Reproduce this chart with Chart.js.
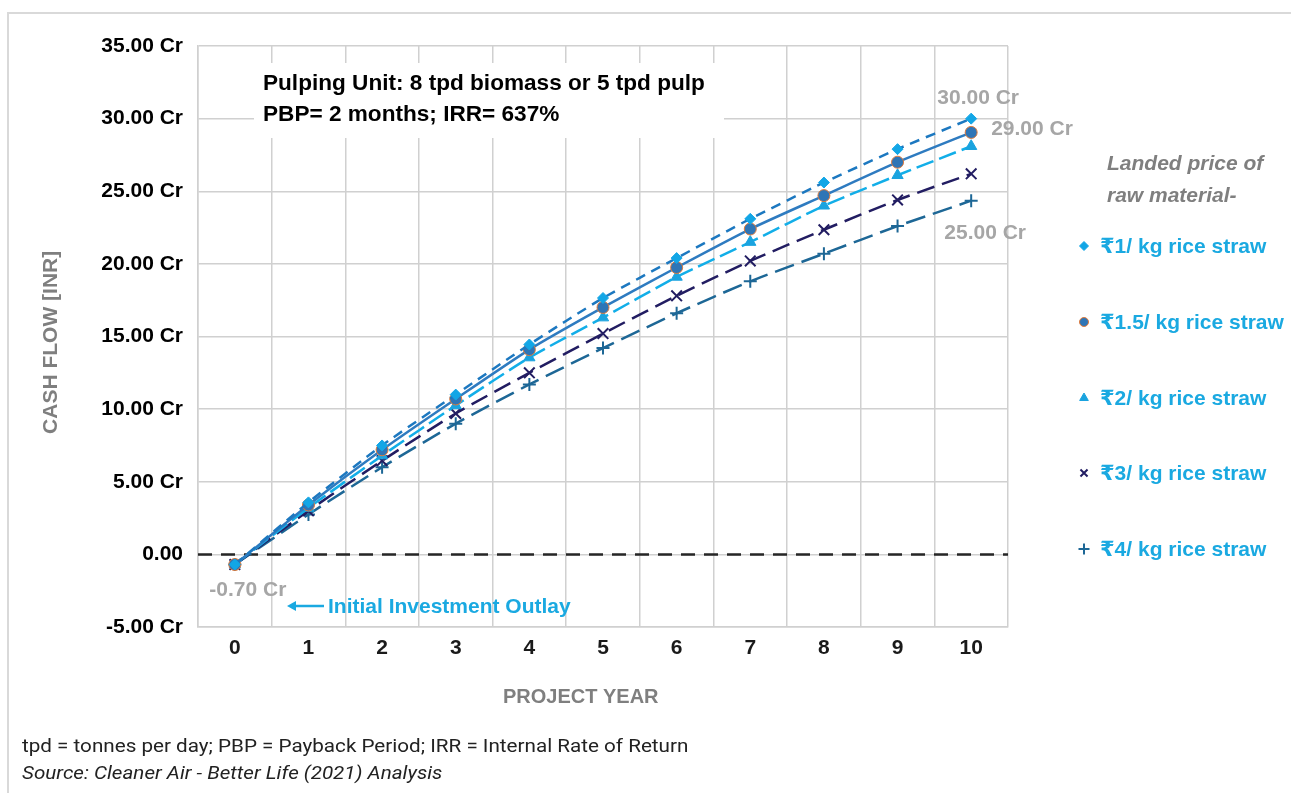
<!DOCTYPE html>
<html>
<head>
<meta charset="utf-8">
<script src="https://cdn.jsdelivr.net/npm/chart.js@4.4.1/dist/chart.umd.min.js"></script>
<style>
  html, body { margin: 0; padding: 0; background: #fff; }
  #wrap { position: relative; width: 1291px; height: 793px; overflow: hidden; }
  #frame { position: absolute; left: 7px; top: 12px; width: 1300px; height: 800px;
           border-left: 2px solid #d9d9d9; border-top: 2px solid #d9d9d9; }
  canvas { position: absolute; left: 0; top: 0; }
  .note { position: absolute; left: 22px; font-family: Roboto, "Noto Sans", sans-serif;
          font-size: 19px; color: #222; white-space: nowrap; transform-origin: 0 0; }
</style>
</head>
<body>
<div id="wrap">
  <div id="frame"></div>
  <canvas id="cashFlowChart" width="1291" height="793"></canvas>
  <div class="note" id="note1" style="top:734px">tpd = tonnes per day; PBP = Payback Period; IRR = Internal Rate of Return</div>
  <div class="note" id="note2" style="top:761px; font-style:italic">Source: Cleaner Air - Better Life (2021) Analysis</div>
</div>
<script>
// project years on the x axis
const years = ['0', '1', '2', '3', '4', '5', '6', '7', '8', '9', '10'];

// cumulative cash flow in crore INR, by landed price of rice straw
const price1 = [-0.7, 3.58, 7.5, 11.0, 14.45, 17.65, 20.4, 23.1, 25.6, 27.9, 30.0];
const price15 = [-0.7, 3.4, 7.2, 10.7, 14.1, 17.0, 19.75, 22.4, 24.7, 27.0, 29.05];
const price2 = [-0.7, 3.2, 6.8, 10.25, 13.55, 16.3, 19.1, 21.5, 24.0, 26.1, 28.1];
const price3 = [-0.7, 3.0, 6.45, 9.7, 12.5, 15.2, 17.8, 20.2, 22.35, 24.4, 26.2];
const price4 = [-0.7, 2.75, 6.0, 9.0, 11.7, 14.2, 16.6, 18.8, 20.7, 22.6, 24.35];

const seriesLabels = ['₹1/ kg rice straw', '₹1.5/ kg rice straw', '₹2/ kg rice straw',
    '₹3/ kg rice straw', '₹4/ kg rice straw'];

const FONT = '"Liberation Sans", Arial, "DejaVu Sans", sans-serif';
const BLUE_TEXT = '#1aa9e1';
const GREY_TEXT = '#a6a6a6';

Chart.defaults.font.family = FONT;
Chart.defaults.font.size = 21;
Chart.defaults.font.weight = 'bold';
Chart.defaults.color = '#000';

// dashed black line at zero
const zeroLine = {
    id: 'zeroLine',
    beforeDatasetsDraw(chart) {
        const {ctx, chartArea, scales: {y}} = chart;
        const py = y.getPixelForValue(0);
        ctx.save();
        ctx.strokeStyle = '#262626';
        ctx.lineWidth = 2.5;
        ctx.setLineDash([14, 9]);
        ctx.beginPath();
        ctx.moveTo(chartArea.left, py);
        ctx.lineTo(chartArea.right, py);
        ctx.stroke();
        ctx.restore();
    }
};

// text box, value labels and the outlay arrow
const annotations = {
    id: 'annotations',
    beforeDatasetsDraw(chart) {
        const {ctx} = chart;
        ctx.save();
        ctx.fillStyle = '#fff';
        ctx.fillRect(254, 63, 470, 75);
        ctx.fillStyle = '#000';
        ctx.font = 'bold 22.6px ' + FONT;
        ctx.textBaseline = 'middle';
        ctx.fillText('Pulping Unit: 8 tpd biomass or 5 tpd pulp', 263, 84);
        ctx.fillText('PBP= 2 months; IRR= 637%', 263, 115);
        ctx.restore();
    },
    afterDatasetsDraw(chart) {
        const {ctx} = chart;
        const pt = (ds, i) => chart.getDatasetMeta(ds).data[i];
        ctx.save();
        ctx.font = 'bold 21px ' + FONT;
        ctx.textBaseline = 'middle';
        ctx.fillStyle = GREY_TEXT;
        ctx.textAlign = 'center';
        let p = pt(0, 10);
        ctx.fillText('30.00 Cr', p.x + 7, p.y - 20);
        p = pt(4, 10);
        ctx.fillText('25.00 Cr', p.x + 14, p.y + 33);
        p = pt(1, 0);
        ctx.fillText('-0.70 Cr', p.x + 13, p.y + 26);
        ctx.textAlign = 'left';
        p = pt(1, 10);
        ctx.fillText('29.00 Cr', p.x + 20, p.y - 3);

        // arrow pointing at the initial outlay
        ctx.strokeStyle = BLUE_TEXT;
        ctx.fillStyle = BLUE_TEXT;
        ctx.lineWidth = 2.5;
        ctx.beginPath();
        ctx.moveTo(294, 606);
        ctx.lineTo(324, 606);
        ctx.stroke();
        ctx.beginPath();
        ctx.moveTo(287, 606);
        ctx.lineTo(296, 601);
        ctx.lineTo(296, 611);
        ctx.closePath();
        ctx.fill();
        ctx.fillText('Initial Investment Outlay', 328, 607);
        ctx.restore();
    }
};

// legend on the right, drawn from the datasets' own marker styles
const sideLegend = {
    id: 'sideLegend',
    afterDraw(chart) {
        const {ctx} = chart;
        ctx.save();
        ctx.textBaseline = 'middle';
        ctx.textAlign = 'left';
        ctx.fillStyle = '#7f7f7f';
        ctx.font = 'italic bold 21px ' + FONT;
        ctx.fillText('Landed price of', 1107, 164);
        ctx.fillText('raw material-', 1107, 196);
        const rows = [246, 322, 398, 473, 549];
        chart.data.datasets.forEach((ds, i) => {
            ctx.fillStyle = ds.pointBackgroundColor;
            ctx.strokeStyle = ds.pointBorderColor;
            ctx.lineWidth = ds.pointBorderWidth;
            Chart.helpers.drawPoint(ctx, {
                pointStyle: ds.pointStyle,
                radius: ds.legendRadius,
                rotation: 0,
                borderWidth: ds.pointBorderWidth
            }, 1084, rows[i]);
            ctx.fillStyle = BLUE_TEXT;
            ctx.font = 'bold 21px ' + FONT;
            ctx.fillText(ds.label, 1100, rows[i] + 1);
        });
        ctx.restore();
    }
};

const ctx = document.getElementById('cashFlowChart').getContext('2d');

new Chart(ctx, {
    type: 'line',
    data: {
        labels: years,
        datasets: [{
            label: seriesLabels[0],
            data: price1,
            borderColor: '#1c78c0',
            borderDash: [10, 7],
            pointStyle: 'rectRot',
            pointRadius: 5.5,
            legendRadius: 4.5,
            pointBackgroundColor: '#12a6e6',
            pointBorderColor: '#12a6e6',
            pointBorderWidth: 1
        }, {
            label: seriesLabels[1],
            data: price15,
            borderColor: '#2e7bc0',
            borderDash: [],
            pointStyle: 'circle',
            pointRadius: 6,
            legendRadius: 4.5,
            pointBackgroundColor: '#2e75b6',
            pointBorderColor: '#e07a3a',
            pointBorderWidth: 1
        }, {
            label: seriesLabels[2],
            data: price2,
            borderColor: '#12aee8',
            borderDash: [18, 6],
            pointStyle: 'triangle',
            pointRadius: 6.5,
            legendRadius: 5,
            pointBackgroundColor: '#1aa3df',
            pointBorderColor: '#1aa3df',
            pointBorderWidth: 1
        }, {
            label: seriesLabels[3],
            data: price3,
            borderColor: '#221d62',
            borderDash: [18, 8],
            pointStyle: 'crossRot',
            pointRadius: 7.5,
            legendRadius: 5,
            pointBackgroundColor: '#221d62',
            pointBorderColor: '#221d62',
            pointBorderWidth: 2
        }, {
            label: seriesLabels[4],
            data: price4,
            borderColor: '#1d6796',
            borderDash: [20, 8],
            pointStyle: 'cross',
            pointRadius: 6.5,
            legendRadius: 5.5,
            pointBackgroundColor: '#1d6796',
            pointBorderColor: '#1d6796',
            pointBorderWidth: 2
        }]
    },
    options: {
        responsive: false,
        animation: false,
        devicePixelRatio: 1,
        layout: {
            padding: {left: 0, top: 46, right: 283, bottom: 0}
        },
        elements: {
            line: {borderWidth: 2.5, tension: 0.2},
            point: {hoverRadius: 6}
        },
        plugins: {
            legend: {display: false},
            tooltip: {enabled: false}
        },
        scales: {
            x: {
                type: 'category',
                offset: true,
                afterFit: scale => { scale.height = 166; },
                grid: {offset: true, color: '#d0d0d0', lineWidth: 1.5, drawTicks: false},
                border: {color: '#d0d0d0', width: 1.5},
                ticks: {padding: 9, color: '#1a1a1a'},
                title: {
                    display: true,
                    // trailing spaces pull the title a little left of the plot centre, as in the figure
                    text: 'PROJECT YEAR        ',
                    color: '#7f7f7f',
                    font: {size: 20},
                    padding: {top: 0, bottom: 84}
                }
            },
            y: {
                min: -5,
                max: 35,
                afterFit: scale => { scale.width = 198; },
                grid: {color: '#d0d0d0', lineWidth: 1.5, drawTicks: false},
                border: {color: '#d0d0d0', width: 1.5},
                ticks: {
                    stepSize: 5,
                    padding: 15,
                    color: '#000',
                    callback: v => v === 0 ? '0.00' : v.toFixed(2) + ' Cr'
                },
                title: {
                    display: true,
                    text: 'CASH FLOW [INR]  ',
                    color: '#7f7f7f',
                    padding: {top: 39, bottom: 0}
                }
            }
        }
    },
    plugins: [zeroLine, annotations, sideLegend]
});

// squeeze the footnotes to the width they have in the figure
[['note1', 666], ['note2', 420]].forEach(([id, w]) => {
    const el = document.getElementById(id);
    el.style.display = 'inline-block';
    el.style.transform = 'scaleX(' + (w / el.offsetWidth) + ')';
});
</script>
</body>
</html>
